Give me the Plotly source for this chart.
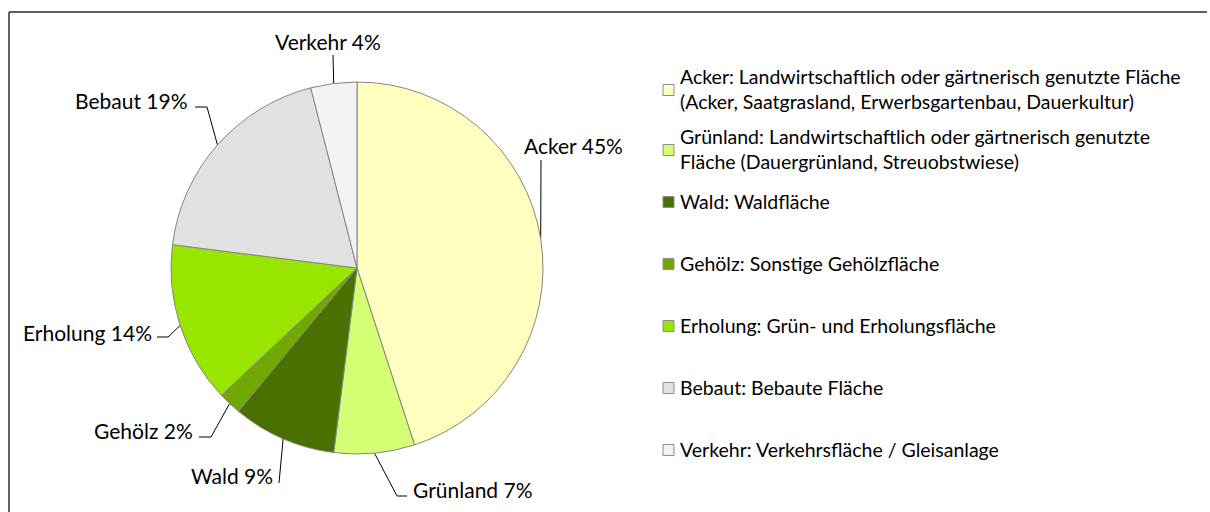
import math
import plotly.graph_objects as go

# Land-use shares (percent), clockwise from 12 o'clock
categories = ["Acker", "Grünland", "Wald", "Gehölz", "Erholung", "Bebaut", "Verkehr"]
shares = [45, 7, 9, 2, 14, 19, 4]
descriptions = [
    "Acker: Landwirtschaftlich oder gärtnerisch genutzte Fläche<br>(Acker, Saatgrasland, Erwerbsgartenbau, Dauerkultur)",
    "Grünland: Landwirtschaftlich oder gärtnerisch genutzte<br>Fläche (Dauergrünland, Streuobstwiese)",
    "Wald: Waldfläche",
    "Gehölz: Sonstige Gehölzfläche",
    "Erholung: Grün- und Erholungsfläche",
    "Bebaut: Bebaute Fläche",
    "Verkehr: Verkehrsfläche / Gleisanlage",
]
colors = ["#FFFFC0", "#D2FF73", "#4A7000", "#70A800", "#98E600", "#E1E1E1", "#F3F3F3"]

W, H = 1210, 512
FONT = "Lato, Carlito, 'Liberation Sans', sans-serif"

# pie geometry in pixels
CX, CY, R = 357, 268, 186

# label placement: elbow points after the slice edge, text anchor point, alignment
label_layout = {
    "Acker":    dict(path=[(541, 160)],             text=(573, 145), xanchor="center"),
    "Grünland": dict(path=[(397, 496), (407, 496)], text=(411, 489), xanchor="left"),
    "Wald":     dict(path=[(279, 483)],             text=(275, 475), xanchor="right"),
    "Gehölz":   dict(path=[(211, 437), (199, 437)], text=(195, 430), xanchor="right"),
    "Erholung": dict(path=[(168, 337), (157, 337)], text=(154, 332), xanchor="right"),
    "Bebaut":   dict(path=[(207, 107), (195, 107)], text=(190, 100), xanchor="right"),
    "Verkehr":  dict(path=[(333, 55)],              text=(328, 41), xanchor="center"),
}

# legend rows: vertical centre of each text block
legend_y = [89, 149, 201, 263, 325, 387, 449]
LEG_MARK_X0, LEG_MARK_SIZE, LEG_TEXT_X = 663, 11, 678

fig = go.Figure()

fig.add_trace(go.Pie(
    labels=categories,
    values=shares,
    sort=False,
    direction="clockwise",
    rotation=0,
    marker=dict(colors=colors, line=dict(color="#858585", width=1)),
    textinfo="none",
    hoverinfo="label+percent",
    showlegend=False,
    domain=dict(x=[(CX - R) / W, (CX + R) / W], y=[1 - (CY + R) / H, 1 - (CY - R) / H]),
))

annotations = []
shapes = []

total = sum(shares)
cum = 0.0
for name, val in zip(categories, shares):
    mid = (cum + val / 2) / total * 2 * math.pi
    cum += val
    ex = CX + R * math.sin(mid)
    ey = CY - R * math.cos(mid)
    lay = label_layout[name]
    xs = [ex] + [p[0] for p in lay["path"]]
    ys = [ey] + [p[1] for p in lay["path"]]
    fig.add_trace(go.Scatter(
        x=xs, y=ys, mode="lines", line=dict(color="#000000", width=1),
        hoverinfo="skip", showlegend=False,
    ))
    tx, ty = lay["text"]
    annotations.append(dict(
        x=tx, y=ty, xref="x", yref="y", text=f"{name} {val}%", showarrow=False,
        xanchor=lay["xanchor"], yanchor="middle",
        font=dict(family=FONT, size=21, color="#000000"),
    ))

# legend drawn as marker squares and text blocks
for desc, col, yc in zip(descriptions, colors, legend_y):
    shapes.append(dict(
        type="rect", xref="x", yref="y",
        x0=LEG_MARK_X0, x1=LEG_MARK_X0 + LEG_MARK_SIZE,
        y0=yc - LEG_MARK_SIZE / 2 + 1, y1=yc + LEG_MARK_SIZE / 2 + 1,
        fillcolor=col, line=dict(color="#8c8c8c", width=1),
    ))
    annotations.append(dict(
        x=LEG_TEXT_X, y=yc, xref="x", yref="y", text=desc, showarrow=False,
        xanchor="left", yanchor="middle", align="left",
        font=dict(family=FONT, size=19.5, color="#000000"),
    ))

# chart frame (top and left edges fall inside the view)
for x0, y0, x1, y1 in [(9, 12, 1207, 12), (9, 12, 9, 512)]:
    shapes.append(dict(
        type="line", xref="x", yref="y", x0=x0, y0=y0, x1=x1, y1=y1,
        line=dict(color="#2e2e2e", width=1.5), layer="above",
    ))

fig.update_layout(
    width=W, height=H,
    margin=dict(l=0, r=0, t=0, b=0),
    paper_bgcolor="#ffffff", plot_bgcolor="rgba(0,0,0,0)",
    xaxis=dict(range=[0, W], visible=False, fixedrange=True),
    yaxis=dict(range=[H, 0], visible=False, fixedrange=True),
    annotations=annotations,
    shapes=shapes,
    font=dict(family=FONT),
)

fig.write_html("out.html", config={"displayModeBar": False})
